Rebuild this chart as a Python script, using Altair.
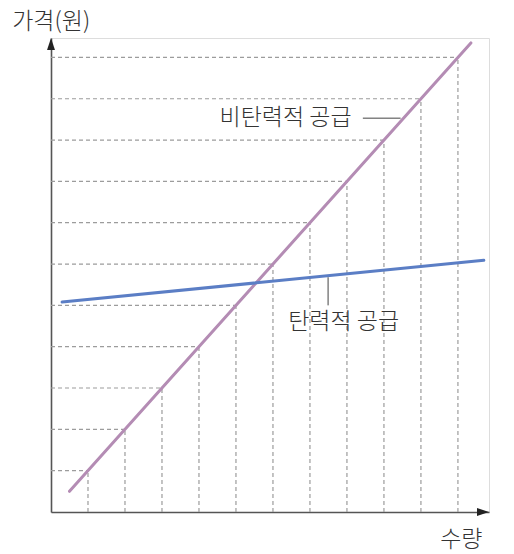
import altair as alt
import pandas as pd

# grid levels (price/quantity steps)
levels = list(range(1, 12))

# inelastic supply (purple) endpoints
inelastic_x = [0.5, 11.35]
inelastic_y = [0.5, 11.35]

# elastic supply (blue) endpoints
elastic_x = [0.3, 11.7]
elastic_y = [5.08, 6.09]

x_max = 11.84
y_max = 11.47

x_sc = alt.Scale(domain=[0, x_max], nice=False, zero=False)
y_sc = alt.Scale(domain=[0, y_max], nice=False, zero=False)

FONT = "Noto Sans CJK KR"
GRID = "#9c9c9c"
TXT = "#333333"
FS = 23

hgrid = pd.DataFrame({"x0": [0] * len(levels), "x1": levels, "y": levels})
vgrid = pd.DataFrame({"x": levels, "y0": [0] * len(levels), "y1": levels})

base_axes = alt.Chart(pd.DataFrame({"x": [0, x_max], "y": [0, y_max]})).mark_point(opacity=0).encode(
    x=alt.X("x:Q", scale=x_sc,
            axis=alt.Axis(title="수량", labels=False, ticks=False, grid=False,
                          domainColor="#555555", domainWidth=1.6,
                          titleFont=FONT, titleFontSize=FS, titleFontWeight=300,
                          titleColor=TXT, titleAlign="right", titleBaseline="middle",
                          titleX=431, titleY=27)),
    y=alt.Y("y:Q", scale=y_sc,
            axis=alt.Axis(title=None, labels=False, ticks=False, grid=False,
                          domainColor="#555555", domainWidth=1.6)),
)

h_rules = alt.Chart(hgrid).mark_rule(color=GRID, strokeDash=[4, 3], strokeWidth=1.2).encode(
    x=alt.X("x0:Q", scale=x_sc), x2="x1:Q", y=alt.Y("y:Q", scale=y_sc))
v_rules = alt.Chart(vgrid).mark_rule(color=GRID, strokeDash=[4, 3], strokeWidth=1.2).encode(
    x=alt.X("x:Q", scale=x_sc), y=alt.Y("y0:Q", scale=y_sc), y2="y1:Q")

inel = alt.Chart(pd.DataFrame({"x": inelastic_x, "y": inelastic_y})).mark_line(
    color="#B48CB4", strokeWidth=3, strokeCap="round").encode(
    x=alt.X("x:Q", scale=x_sc), y=alt.Y("y:Q", scale=y_sc))
el = alt.Chart(pd.DataFrame({"x": elastic_x, "y": elastic_y})).mark_line(
    color="#5B7EC5", strokeWidth=3, strokeCap="round").encode(
    x=alt.X("x:Q", scale=x_sc), y=alt.Y("y:Q", scale=y_sc))

# leader lines
lead = pd.DataFrame({"x": [8.43, 7.49], "x2": [9.45, 7.49], "y": [9.53, 5.0], "y2": [9.53, 5.68]})
leaders = alt.Chart(lead).mark_rule(color="#444444", strokeWidth=1).encode(
    x=alt.X("x:Q", scale=x_sc), x2="x2:Q", y=alt.Y("y:Q", scale=y_sc), y2="y2:Q")

labels = pd.DataFrame({"x": [6.34, 7.91], "y": [9.54, 4.6], "t": ["비탄력적 공급", "탄력적 공급"]})
texts = alt.Chart(labels).mark_text(font=FONT, fontSize=FS, fontWeight=300, color=TXT, align="center",
                                    baseline="middle").encode(
    x=alt.X("x:Q", scale=x_sc), y=alt.Y("y:Q", scale=y_sc), text="t:N")

# y-axis title placed above the axis arrow
ytitle = pd.DataFrame({"x": [-1.05], "y": [11.86], "t": ["가격(원)"]})
ytext = alt.Chart(ytitle).mark_text(font=FONT, fontSize=FS, fontWeight=300, color=TXT, align="left",
                                    baseline="middle").encode(
    x=alt.X("x:Q", scale=x_sc), y=alt.Y("y:Q", scale=y_sc), text="t:N")

arrows = pd.DataFrame({"x": [0, x_max], "y": [y_max, 0],
                       "s": ["M0,0L0.33,1L-0.33,1Z", "M0,0L-1,-0.33L-1,0.33Z"]})
arr = alt.Chart(arrows).mark_point(filled=True, color="#222222", size=576, opacity=1, strokeWidth=0).encode(
    x=alt.X("x:Q", scale=x_sc), y=alt.Y("y:Q", scale=y_sc),
    shape=alt.Shape("s:N", scale=None))

chart = alt.layer(base_axes, h_rules, v_rules, inel, el, leaders, texts, ytext, arr).properties(
    width=438, height=474, autosize="none",
    padding={"left": 43, "top": 30, "right": 10, "bottom": 42},
).configure_view(fill="#E9EBEA", stroke=None).configure(background="white")

chart.save("out.html", embed_options={"renderer": "svg", "actions": False})
